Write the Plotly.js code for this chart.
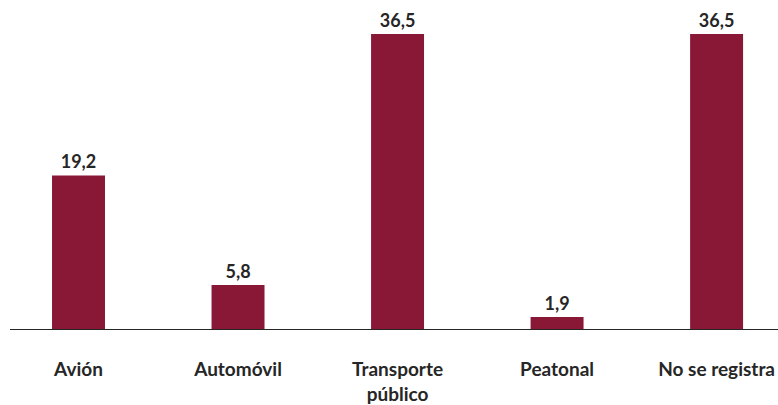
<!DOCTYPE html>
<html>
<head>
<meta charset="utf-8">
<script src="https://cdn.plot.ly/plotly-3.0.1.min.js"></script>
<style>html,body{margin:0;padding:0;background:#fff;}#chart{width:778px;height:405px;}</style>
</head>
<body>
<div id="chart"></div>
<script>
const categories = ["Avión", "Automóvil", "Transporte<br>público", "Peatonal", "No se registra"];
const values = [19.2, 5.8, 36.5, 1.9, 36.5];
const valueLabels = ["19,2", "5,8", "36,5", "1,9", "36,5"];

const trace = {
  type: "bar",
  x: categories,
  y: values,
  text: valueLabels,
  textposition: "outside",
  cliponaxis: false,
  textfont: {family: "Lato", size: 18, color: "#262626", weight: 700},
  marker: {color: "#891736"},
  hoverinfo: "none"
};

const layout = {
  width: 778,
  height: 405,
  margin: {l: 10, r: 0, t: 0, b: 76},
  paper_bgcolor: "#ffffff",
  plot_bgcolor: "#ffffff",
  showlegend: false,
  bargap: 0.668,
  font: {family: "Lato", color: "#262626"},
  xaxis: {
    type: "category",
    range: [-0.4295, 4.385],
    showline: true,
    linecolor: "#262626",
    linewidth: 1,
    ticks: "outside",
    ticklen: 23,
    tickcolor: "rgba(0,0,0,0)",
    tickfont: {family: "Lato", size: 19, color: "#262626", weight: 700},
    fixedrange: true
  },
  yaxis: {
    range: [0.43, 40.65],
    visible: false,
    showgrid: false,
    zeroline: false,
    fixedrange: true
  }
};

Plotly.newPlot("chart", [trace], layout, {displayModeBar: false, staticPlot: true});
</script>
</body>
</html>
